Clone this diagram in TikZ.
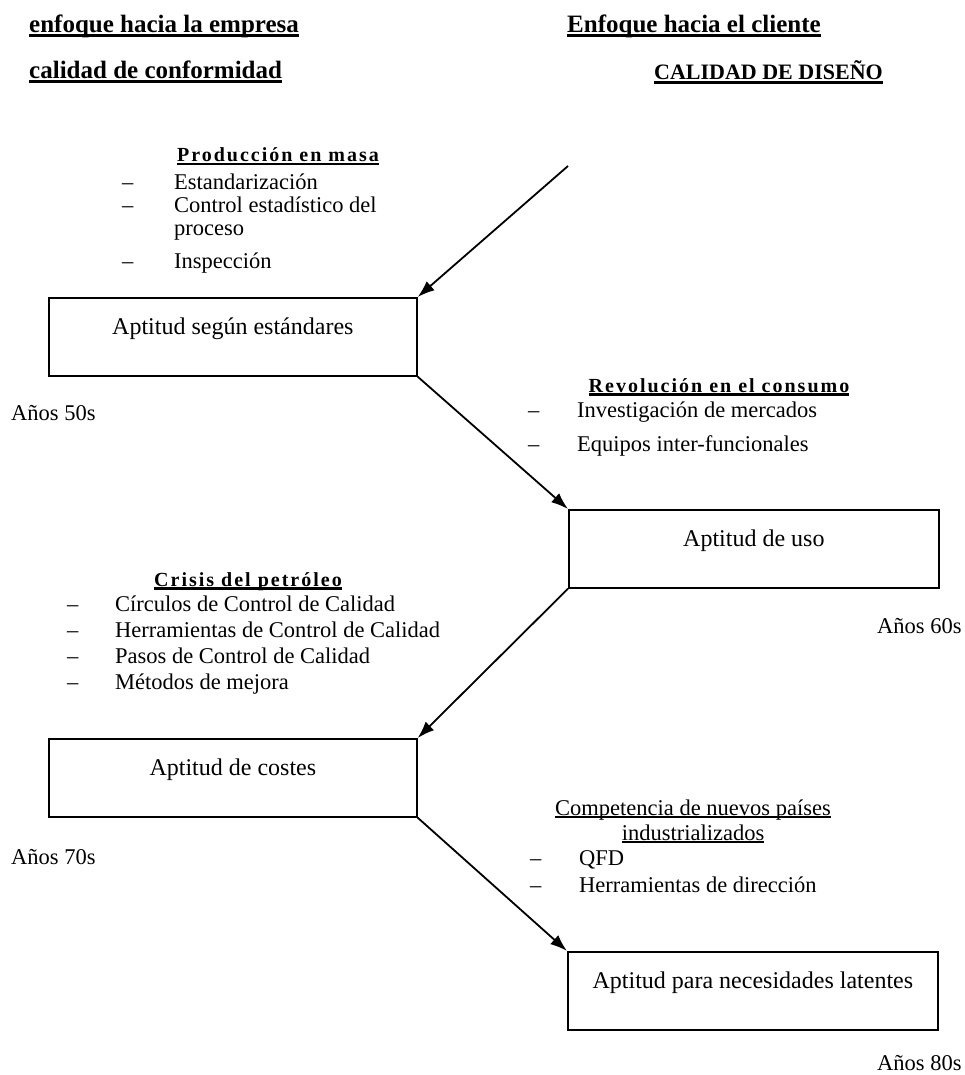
\documentclass[tikz,border=0pt]{standalone}
\usepackage{fontspec}
\setmainfont{Liberation Serif}
\newfontfamily\spacedfont[LetterSpace=10]{Liberation Serif}
\usepackage{tikz}
\usetikzlibrary{shapes, arrows.meta}
\newcommand{\ulbox}[2]{\leavevmode\setbox0=\hbox{#2}\rlap{\vrule width\wd0 height -1pt depth \dimexpr1pt+#1\relax}\box0}
\newcommand{\thickul}[1]{\ulbox{3pt}{#1}}
\newcommand{\midul}[1]{\ulbox{2.5pt}{#1}}
\newcommand{\thinul}[1]{\ulbox{1.6pt}{#1}}
\tikzstyle{stage} = [rectangle, draw, line width=1.7pt, anchor=north west, minimum width=368pt, inner sep=0pt, text height=37pt, text depth=41pt, font=\fontsize{24}{28}\selectfont]
\tikzstyle{head} = [anchor=base west, inner sep=0pt, font=\bfseries\fontsize{25}{30}\selectfont]
\tikzstyle{topic} = [anchor=base, inner sep=0pt, font=\spacedfont\bfseries\fontsize{20}{24}\selectfont]
\tikzstyle{items} = [anchor=base west, inner sep=0pt, font=\fontsize{22.5}{23}\selectfont]
\tikzstyle{decade} = [anchor=base west, inner sep=0pt, font=\fontsize{22.5}{27}\selectfont]
\tikzstyle{line} = [draw, line width=1.8pt, -{Latex[length=17pt, width=12pt]}]

\begin{document}
\begin{tikzpicture}[x=1pt, y=-1pt]
    \useasboundingbox (0,0) rectangle (965,1075);

    % cabeceras
    \node[head] (empresa) at (29,33) {\thickul{enfoque hacia la empresa}};
    \node[head] (conformidad) at (29,79) {\thickul{calidad de conformidad}};
    \node[head] (cliente) at (567,33) {\thickul{Enfoque hacia el cliente}};
    \node[head, font=\bfseries\fontsize{22}{26}\selectfont] (diseno) at (654,80) {\thickul{CALIDAD DE DISEÑO}};

    % etapas
    \node[stage] (b50) at (48,297) {Aptitud según estándares};
    \node[stage, minimum width=370pt] (b60) at (568,509) {Aptitud de uso};
    \node[stage] (b70) at (48,738) {Aptitud de costes};
    \node[stage, minimum width=370pt] (b80) at (567,951) {Aptitud para necesidades latentes};

    % motivos
    \node[topic] (masa) at (278,162) {\midul{Producción en masa}};
    \node[items] (masalist) at (122,190) {\begin{tabular}[t]{@{}p{52pt}@{}l@{}}
        –&Estandarización\\
        –&Control estadístico del\\
         &proceso\\[10pt]
        –&Inspección
    \end{tabular}};

    \node[topic] (consumo) at (719,392) {\midul{Revolución en el consumo}};
    \node[items] (consumolist) at (528,417) {\begin{tabular}[t]{@{}p{49pt}@{}l@{}}
        –&Investigación de mercados\\[11pt]
        –&Equipos inter-funcionales
    \end{tabular}};

    \node[topic] (petroleo) at (248,586) {\midul{Crisis del petróleo}};
    \node[items] (petroleolist) at (67,611) {\begin{tabular}[t]{@{}p{48pt}@{}l@{}}
        –&Círculos de Control de Calidad\\[3pt]
        –&Herramientas de Control de Calidad\\[3pt]
        –&Pasos de Control de Calidad\\[3pt]
        –&Métodos de mejora
    \end{tabular}};

    \node[items, anchor=base] (competencia) at (693,815) {\begin{tabular}[t]{@{}c@{}}
        \thinul{Competencia de nuevos países}\\[2pt]
        \thinul{industrializados}
    \end{tabular}};
    \node[items] (competencialist) at (530,865) {\begin{tabular}[t]{@{}p{49pt}@{}l@{}}
        –&QFD\\[4pt]
        –&Herramientas de dirección
    \end{tabular}};

    % decadas
    \node[decade] (a50) at (11,420) {Años 50s};
    \node[decade] (a60) at (877,633) {Años 60s};
    \node[decade] (a70) at (11,864) {Años 70s};
    \node[decade] (a80) at (877,1070) {Años 80s};

    % flechas
    \coordinate (inicio) at (568,166);
    \path[line] (inicio) -- (b50.north east);
    \path[line] (b50.south east) -- (b60.north west);
    \path[line] (b60.south west) -- (b70.north east);
    \path[line] (b70.south east) -- (b80.north west);
\end{tikzpicture}
\end{document}
